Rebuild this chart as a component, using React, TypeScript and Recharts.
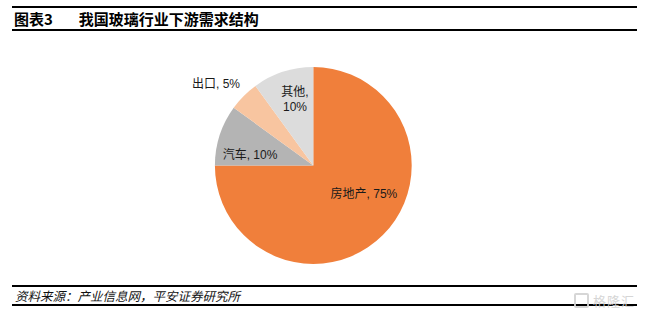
import React from "react";
import { PieChart, Pie, Cell } from "recharts";

// 下游需求结构 (%)
const categories = ["房地产", "汽车", "出口", "其他"];
const shares = [75, 10, 5, 10];
const colors = ["#F07F3B", "#B4B4B4", "#F8C5A0", "#DCDCDC"];

const titleLabel = "图表3";
const titleText = "我国玻璃行业下游需求结构";
const sourceText = "资料来源：产业信息网，平安证券研究所";

const data = categories.map((name, i) => ({ name, value: shares[i] }));

// label placement relative to slice midAngle: radius factor + angle tweak
const labelPlace: Record<string, { r: number; da: number; lines?: boolean }> = {
  房地产: { r: 0.593, da: 15.2 },
  汽车: { r: 0.651, da: 9 },
  出口: { r: 1.287, da: 5.2 },
  其他: { r: 0.7, da: -2.6, lines: true },
};

const RAD = Math.PI / 180;
const font = "'Liberation Sans', Arial, 'Noto Sans CJK SC', sans-serif";

function renderLabel(props: any) {
  const { cx, cy, midAngle, outerRadius, name, value } = props;
  const p = labelPlace[name] || { r: 0.6, da: 0 };
  const a = (midAngle + p.da) * RAD;
  const r = outerRadius * p.r;
  const x = cx + r * Math.cos(-a);
  const y = cy + r * Math.sin(-a);
  const common = {
    textAnchor: "middle" as const,
    dominantBaseline: "central" as const,
    fontSize: 12,
    fontFamily: font,
    fill: "#1a1a1a",
  };
  if (p.lines) {
    return (
      <text x={x} y={y} {...common}>
        <tspan x={x} dy={-7.5}>{`${name},`}</tspan>
        <tspan x={x} dy={15}>{`${value}%`}</tspan>
      </text>
    );
  }
  return (
    <text x={x} y={y} {...common}>
      {`${name}, ${value}%`}
    </text>
  );
}

export default function App() {
  return (
    <div
      style={{
        position: "absolute",
        left: 0,
        top: 0,
        width: 648,
        height: 317,
        background: "#fff",
        fontFamily: font,
      }}
    >
      {/* header rules + title */}
      <div style={{ position: "absolute", left: 12, top: 6, width: 625, height: 2, background: "#000" }} />
      <div
        style={{
          position: "absolute",
          left: 14,
          top: 9,
          fontSize: 15,
          fontWeight: "bold",
          fontFamily: "'Noto Sans CJK SC', sans-serif",
          lineHeight: "19px",
          whiteSpace: "nowrap",
        }}
      >
        <span>{titleLabel}</span>
        <span style={{ marginLeft: 26 }}>{titleText}</span>
      </div>
      <div style={{ position: "absolute", left: 12, top: 29, width: 625, height: 2, background: "#000" }} />

      <div style={{ position: "absolute", left: 0, top: 0 }}>
        <PieChart width={648} height={317} margin={{ top: 0, right: 0, bottom: 0, left: 0 }}>
          <Pie
            data={data}
            dataKey="value"
            nameKey="name"
            cx={313.3}
            cy={165.5}
            outerRadius={98.4}
            startAngle={90}
            endAngle={-270}
            stroke="none"
            label={renderLabel}
            labelLine={false}
            isAnimationActive={false}
          >
            {data.map((d, i) => (
              <Cell key={d.name} fill={colors[i]} />
            ))}
          </Pie>
        </PieChart>
      </div>

      {/* footer */}
      <div style={{ position: "absolute", left: 12, top: 285, width: 625, height: 2, background: "#000" }} />
      <div
        style={{
          position: "absolute",
          left: 15,
          top: 287,
          fontSize: 12.5,
          fontStyle: "italic",
          fontFamily: "'Noto Sans CJK SC', sans-serif",
          lineHeight: "17px",
          color: "#111",
          whiteSpace: "nowrap",
        }}
      >
        {sourceText}
      </div>
      <div style={{ position: "absolute", left: 12, top: 304, width: 625, height: 2, background: "#000" }} />

      {/* watermark */}
      <div
        style={{
          position: "absolute",
          left: 574,
          top: 291,
          display: "flex",
          alignItems: "center",
          color: "#d2d2d2",
          fontSize: 13,
          fontFamily: "'Noto Sans CJK SC', sans-serif",
          opacity: 0.9,
        }}
      >
        <div
          style={{
            width: 11,
            height: 11,
            border: "2px solid #d2d2d2",
            borderRadius: 2,
            marginRight: 4,
          }}
        />
        <span style={{ letterSpacing: 1 }}>格隆汇</span>
      </div>
    </div>
  );
}
